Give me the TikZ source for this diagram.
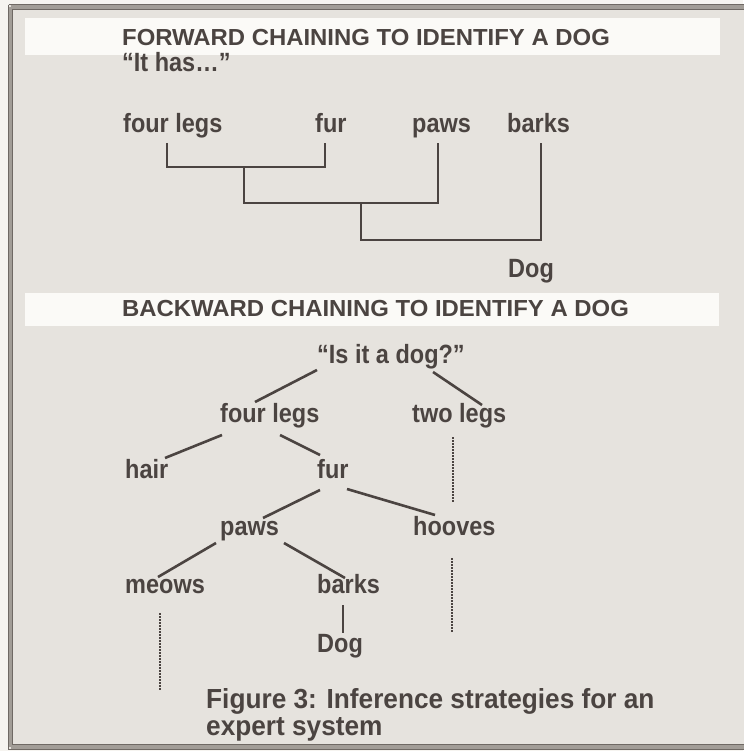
\documentclass[tikz,border=0pt]{standalone}
\usepackage{fontspec}
\setmainfont{Liberation Sans}
\newfontfamily\lblfont{Liberation Sans Bold}[FakeStretch=0.89]
\newfontfamily\ttlfont{Liberation Sans Bold}[FakeStretch=1.03]
\newfontfamily\capfont{Liberation Sans Bold}[FakeStretch=0.95]
\usetikzlibrary{calc}
\definecolor{ink}{HTML}{4B4441}
\definecolor{paper}{HTML}{F6F4F0}
\definecolor{panel}{HTML}{E6E3DE}
\definecolor{band}{HTML}{FBFAF7}
\definecolor{framec}{HTML}{A29D97}
\definecolor{framed}{HTML}{6F6964}
\begin{document}
\begin{tikzpicture}[x=1pt,y=-1pt,
  lbl/.style={anchor=base west, inner sep=0pt, text=ink, font=\lblfont\fontsize{26.4}{30}\selectfont},
  ttl/.style={anchor=base west, inner sep=0pt, text=ink, font=\ttlfont\fontsize{23.2}{28}\selectfont},
  captext/.style={anchor=base west, inner sep=0pt, text=ink, font=\capfont\fontsize{27.6}{30}\selectfont},
  link/.style={draw=ink, line width=2.6pt},
  dots/.style={draw=ink, line width=2.1pt, dash pattern=on 1.5pt off 1.5pt}]
\useasboundingbox (0,0) rectangle (743,751);
% paper and panel
\fill[paper] (0,0) rectangle (743,751);
\fill[panel] (8,5) rectangle (750,749);
% frame (double rule)
\draw[framec, line width=4.5pt] (10.5,7) -- (760,7);
\draw[framec, line width=4.5pt] (10.5,7) -- (10.5,747);
\draw[framec, line width=4.5pt] (10.5,747) -- (760,747);
\draw[framed, line width=1.1pt] (8.5,4.8) -- (760,4.8) (8.5,4.8) -- (8.5,749.2) -- (760,749.2);
\draw[framed, line width=1.1pt] (12.6,9.2) -- (760,9.2) (12.6,9.2) -- (12.6,744.8) -- (760,744.8);
% header bands
\fill[band] (25,18) rectangle (720,55);
\fill[band] (25,293) rectangle (719,326);

% ---------- forward chaining ----------
\node[ttl] (t1) at (122,46) {FORWARD CHAINING TO IDENTIFY A DOG};
\node[lbl] (has) at (122,72) {“It has…”};
\node[lbl] (fl2) at (123,133) {four legs};
\node[lbl] (fur2) at (315,133) {fur};
\node[lbl] (paws2) at (412,133) {paws};
\node[lbl] (barks2) at (507,133) {barks};
\node[lbl] (dogf) at (508,277) {Dog};
\coordinate (j1) at (244,167);
\coordinate (j2) at (361,203);
\draw[link] ([shift={(44,10)}]fl2.base west) |- ([shift={(10,34)}]fur2.base west) -- ([shift={(10,10)}]fur2.base west);
\draw[link] (j1) |- ([shift={(26,70)}]paws2.base west) -- ([shift={(26,10)}]paws2.base west);
\draw[link] (j2) |- ([shift={(34,107)}]barks2.base west) -- ([shift={(34,10)}]barks2.base west);

% ---------- backward chaining ----------
\node[ttl] (t2) at (122,316) {BACKWARD CHAINING TO IDENTIFY A DOG};
\node[lbl] (q) at (317,363) {“Is it a dog?”};
\node[lbl] (fl) at (220,422) {four legs};
\node[lbl] (tl) at (412,422) {two legs};
\node[lbl] (hair) at (125,478) {hair};
\node[lbl] (fur) at (317,478) {fur};
\node[lbl] (paws) at (220,535) {paws};
\node[lbl] (hoov) at (413,535) {hooves};
\node[lbl] (meows) at (125,593) {meows};
\node[lbl] (barks) at (317,593) {barks};
\node[lbl] (dog) at (317,652) {Dog};

\draw[link] ([shift={(0,7)}]q.base west) -- ([shift={(35,-20)}]fl.base west);
\draw[link] ([shift={(116,9)}]q.base west) -- ([shift={(70,-17)}]tl.base west);
\draw[link] ([shift={(2,13)}]fl.base west) -- ([shift={(40,-20)}]hair.base west);
\draw[link] ([shift={(60,13)}]fl.base west) -- ([shift={(3,-23)}]fur.base west);
\draw[link] ([shift={(3,12)}]fur.base west) -- ([shift={(43,-17)}]paws.base west);
\draw[link] ([shift={(30,11)}]fur.base west) -- ([shift={(22,-20)}]hoov.base west);
\draw[link] ([shift={(-4,8)}]paws.base west) -- ([shift={(33,-16)}]meows.base west);
\draw[link] ([shift={(64,8)}]paws.base west) -- ([shift={(28,-15)}]barks.base west);
\draw[link] ([shift={(26,12)}]barks.base west) -- ([shift={(26,-19)}]dog.base west);

\draw[dots] ([shift={(41,15)}]tl.base west) -- ([shift={(41,81)}]tl.base west);
\draw[dots] ([shift={(39,23)}]hoov.base west) -- ([shift={(39,98)}]hoov.base west);
\draw[dots] ([shift={(35,20)}]meows.base west) -- ([shift={(35,97)}]meows.base west);

\node[captext] (c1) at (206,708) {Figure 3: Inference strategies for an};
\node[captext] (c2) at (206,735) {expert system};
\end{tikzpicture}
\end{document}
